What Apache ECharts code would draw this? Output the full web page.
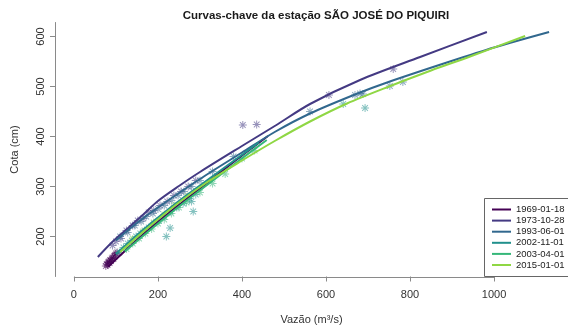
<!DOCTYPE html>
<html>
<head>
<meta charset="utf-8">
<script src="https://cdn.jsdelivr.net/npm/echarts@6/dist/echarts.min.js"></script>
<style>
html, body { margin: 0; padding: 0; background: #fff; }
#chart { width: 568px; height: 331px; }
</style>
</head>
<body>
<div id="chart"></div>
<script>
// datas das curvas-chave
var dates = ['1969-01-18', '1973-10-28', '1993-06-01', '2002-11-01', '2003-04-01', '2015-01-01'];
var colors = ['#440154', '#443A83', '#31688E', '#21908C', '#35B779', '#8FD744'];

// curvas [vazão, cota]
var curve1969 = [[81, 139], [150, 193], [220, 243], [300, 296], [380, 349], [462, 401]];
var curve1973 = [[57, 159], [90, 188], [129, 217], [165, 244], [200, 271], [250, 301], [300, 329], [400, 381], [480, 422], [562, 465], [681, 513], [824, 559], [983, 609]];
var curve1993 = [[100, 192], [150, 227], [200, 258], [300, 315], [400, 368], [480, 410], [562, 446], [669, 484], [752, 510], [895, 550], [1000, 578], [1131, 609]];
var curve2002 = [[100, 165], [160, 210], [230, 258], [300, 302], [370, 345], [440, 388]];
var curve2003 = [[121, 170], [180, 212], [250, 260], [320, 305], [390, 350], [459, 393]];
var curve2015 = [[110, 169], [174, 216], [250, 268], [316, 308], [400, 352], [480, 392], [562, 430], [650, 466], [750, 500], [850, 532], [943, 560], [1074, 601]];

// medições [vazão, cota]
var pts1969 = [[76, 141], [78, 145], [80, 143], [81, 148], [83, 150], [85, 147], [86, 153], [88, 151], [90, 156], [92, 158], [94, 155], [96, 161], [98, 163], [100, 166], [103, 168]];
var pts1973 = [[92, 182], [100, 190], [112, 196], [125, 212], [140, 222], [152, 232], [165, 236], [178, 248], [190, 252], [205, 262], [222, 270], [238, 282], [255, 290], [272, 300], [290, 312], [402, 423], [435, 424], [607, 483], [760, 535]];
var pts1993 = [[110, 200], [128, 208], [145, 222], [160, 230], [172, 240], [188, 246], [200, 255], [215, 262], [232, 272], [248, 282], [262, 290], [280, 300], [300, 312], [330, 330], [380, 360], [562, 450], [669, 483], [681, 486], [688, 485], [752, 501], [783, 509]];
var pts2002 = [[108, 168], [118, 178], [128, 186], [138, 192], [148, 200], [158, 206], [168, 212], [178, 218], [190, 226], [202, 232], [215, 240], [230, 250], [245, 258], [260, 266], [275, 276], [290, 284], [220, 200], [229, 217], [280, 270], [284, 250], [641, 465], [693, 457]];
var pts2003 = [[125, 175], [140, 186], [155, 196], [170, 206], [185, 215], [200, 226], [215, 234], [232, 246], [250, 258], [268, 268], [300, 288], [330, 306], [360, 325], [400, 356], [430, 372]];
var pts2015 = [[140, 195], [165, 210], [190, 228], [215, 244], [240, 262], [270, 280]];

var xTicks = [0, 200, 400, 600, 800, 1000];
var yTicks = [200, 300, 400, 500, 600];

var curves = [curve1969, curve1973, curve1993, curve2002, curve2003, curve2015];
var points = [pts1969, pts1973, pts1993, pts2002, pts2003, pts2015];

var xRange = [-45, 1176];
var yRange = [120, 628];
var axisColor = '#8a8a8a';
var asterisk = 'path://M-1.2,-10L1.2,-10L1.2,10L-1.2,10Z M-10,-1.2L10,-1.2L10,1.2L-10,1.2Z ' +
    'M-7.9,-6.2L-6.2,-7.9L7.9,6.2L6.2,7.9Z M-6.2,7.9L-7.9,6.2L6.2,-7.9L7.9,-6.2Z';

var series = [];
// pontos medidos
points.forEach(function(p, i) {
    series.push({
        name: 'medições ' + dates[i],
        type: 'scatter',
        data: p,
        symbol: asterisk,
        symbolSize: 8,
        itemStyle: { color: colors[i], opacity: 0.55 },
        silent: true,
        z: 2
    });
});
// curvas
curves.forEach(function(c, i) {
    series.push({
        name: dates[i],
        type: 'line',
        data: c,
        smooth: 0.3,
        symbol: 'none',
        lineStyle: { color: colors[i], width: 2 },
        itemStyle: { color: colors[i] },
        z: 3
    });
});

function plain(v) { return String(v); }

var chart = echarts.init(document.getElementById('chart'), null, { renderer: 'canvas' });
chart.setOption({
    animation: false,
    backgroundColor: '#fff',
    textStyle: { fontFamily: 'Liberation Sans, Arial, sans-serif' },
    title: {
        text: 'Curvas-chave da estação SÃO JOSÉ DO PIQUIRI',
        left: 311, top: 5, textAlign: 'center',
        textStyle: { fontSize: 11.5, fontWeight: 'bold', color: '#1a1a1a' }
    },
    grid: { left: 55, right: 0, top: 22.5, bottom: 54.5, containLabel: false },
    xAxis: {
        type: 'value', min: xRange[0], max: xRange[1],
        name: 'Vazão (m³/s)', nameLocation: 'middle', nameGap: 38,
        nameTextStyle: { fontSize: 11, color: '#333' },
        axisLine: { show: false, onZero: false },
        axisTick: { show: true, length: 5, customValues: xTicks, lineStyle: { color: axisColor } },
        axisLabel: { customValues: xTicks, margin: 13, fontSize: 11, color: '#333', formatter: plain },
        splitLine: { show: false }
    },
    yAxis: {
        type: 'value', min: yRange[0], max: yRange[1],
        name: 'Cota (cm)', nameLocation: 'middle', nameGap: 35, nameRotate: 90,
        nameTextStyle: { fontSize: 11, color: '#333' },
        axisLine: { show: true, onZero: false, lineStyle: { color: axisColor, width: 1 } },
        axisTick: { show: true, length: 5, customValues: yTicks, lineStyle: { color: axisColor } },
        axisLabel: { customValues: yTicks, rotate: 90, margin: 9, fontSize: 11, color: '#333', formatter: plain },
        splitLine: { show: false }
    },
    legend: {
        data: dates,
        orient: 'vertical',
        left: 492, top: 204,
        padding: 0,
        itemGap: 0.1,
        itemWidth: 19, itemHeight: 2,
        icon: 'rect',
        textStyle: { fontSize: 9.5, lineHeight: 11, color: '#222' }
    },
    series: series
});

// linha do eixo x só entre o primeiro e o último tick (estilo R)
function px(v) { return chart.convertToPixel({ gridIndex: 0 }, v); }
var xa = px([xTicks[0], yRange[0]]), xb = px([xTicks[xTicks.length - 1], yRange[0]]);
var ay = Math.round(xa[1]);
chart.setOption({
    graphic: [{
        type: 'rect', silent: true, z: 10,
        shape: { x: xa[0], y: ay, width: xb[0] - xa[0], height: 1 },
        style: { fill: axisColor }
    }, {
        type: 'rect', silent: true, z: 10,
        shape: { x: 484.5, y: 198.5, width: 100, height: 78 },
        style: { fill: 'none', stroke: '#666', lineWidth: 1 }
    }]
});
</script>
</body>
</html>
